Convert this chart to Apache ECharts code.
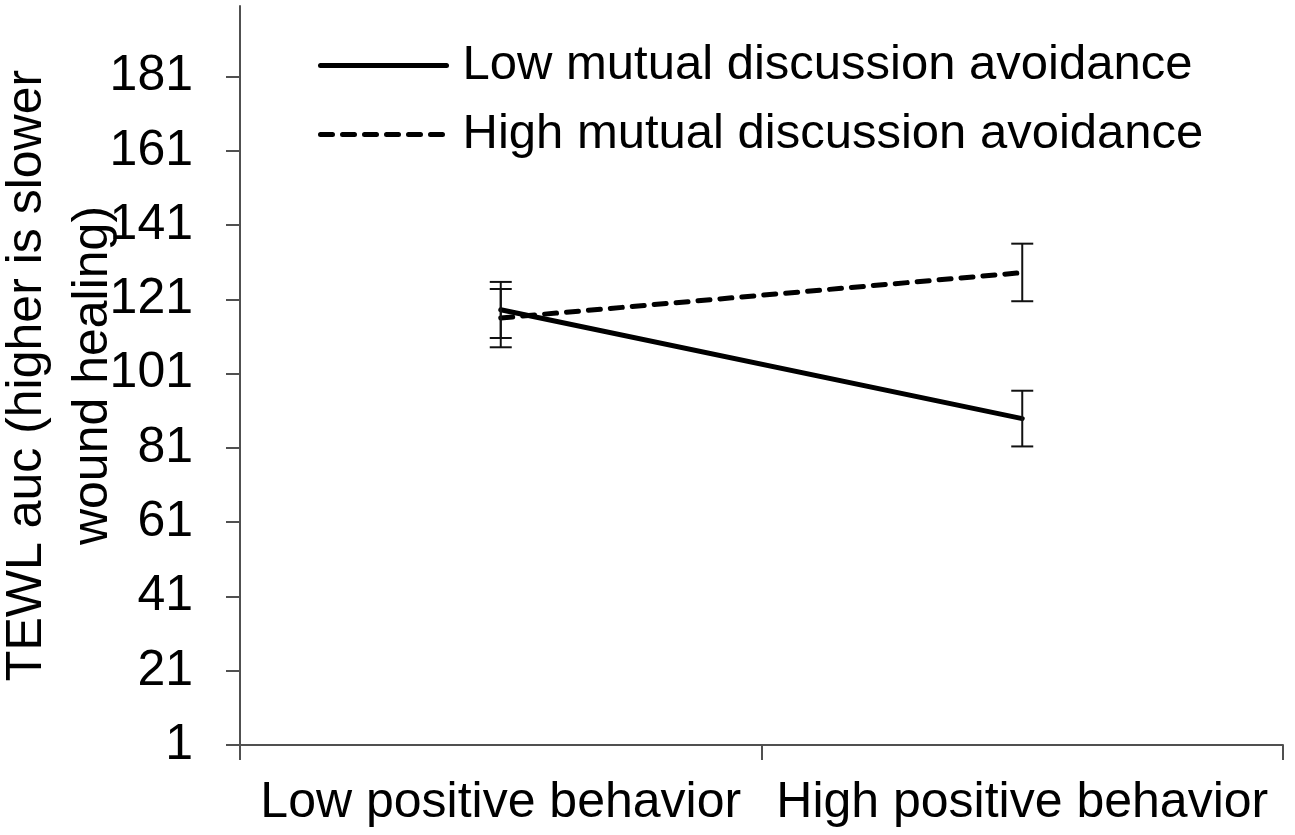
<!DOCTYPE html>
<html>
<head>
<meta charset="utf-8">
<script src="https://cdn.jsdelivr.net/npm/echarts@6/dist/echarts.min.js"></script>
<style>
  html, body { margin: 0; padding: 0; background: #fff; }
  #chart { width: 1295px; height: 835px; }
</style>
</head>
<body>
<div id="chart"></div>
<script>
// Wound-healing (TEWL auc) by positive behavior and mutual discussion avoidance
const categories = ['Low positive behavior', 'High positive behavior'];
const seriesNames = ['Low mutual discussion avoidance', 'High mutual discussion avoidance'];

const lowAvoidMeans = [118.2, 88.9];
const lowAvoidUpper = [125.7, 96.4];
const lowAvoidLower = [110.6, 81.4];

const highAvoidMeans = [116.0, 128.2];
const highAvoidUpper = [123.8, 136.0];
const highAvoidLower = [108.1, 120.5];

const yTicks = [1, 21, 41, 61, 81, 101, 121, 141, 161, 181];
const yMin = 1;
const yMax = 200;
const yTitleLines = ['TEWL auc (higher is slower', 'wound healing)'];

const FONT = '"Liberation Sans", Arial, sans-serif';

function errorData(lower, upper) {
  return categories.map((c, i) => [i, lower[i], upper[i]]);
}

// whisker with a horizontal cap at each end
function renderErrorBar(params, api) {
  const x = api.value(0);
  const lo = api.coord([x, api.value(1)]);
  const hi = api.coord([x, api.value(2)]);
  const half = 11;
  const style = { stroke: '#111', lineWidth: 2 };
  return {
    type: 'group',
    children: [
      { type: 'line', shape: { x1: hi[0], y1: hi[1], x2: lo[0], y2: lo[1] }, style },
      { type: 'line', shape: { x1: hi[0] - half, y1: hi[1], x2: hi[0] + half, y2: hi[1] }, style },
      { type: 'line', shape: { x1: lo[0] - half, y1: lo[1], x2: lo[0] + half, y2: lo[1] }, style }
    ]
  };
}

const chart = echarts.init(document.getElementById('chart'), null, { renderer: 'canvas' });

chart.setOption({
  animation: false,
  backgroundColor: '#fff',
  textStyle: { fontFamily: FONT, color: '#000' },
  grid: { left: 240, right: 12, top: 6, bottom: 90, containLabel: false, outerBoundsMode: 'none' },
  legend: {
    orient: 'vertical',
    left: 313,
    top: 36,
    itemWidth: 126,
    itemHeight: 20,
    itemGap: 20,
    data: seriesNames,
    itemStyle: { opacity: 0 },
    lineStyle: { width: 5 },
    textStyle: { fontFamily: FONT, fontSize: 49, color: '#000', lineHeight: 49, padding: [0, 0, 0, 11] }
  },
  xAxis: {
    type: 'category',
    data: categories,
    boundaryGap: true,
    axisLine: { show: true, lineStyle: { color: '#505050', width: 2 } },
    axisTick: { show: true, length: 15, lineStyle: { color: '#505050', width: 2 } },
    axisLabel: { interval: 0, hideOverlap: false, margin: 33, fontSize: 50, color: '#000', fontFamily: FONT },
    splitLine: { show: false }
  },
  yAxis: {
    type: 'value',
    min: yMin,
    max: yMax,
    interval: 20,
    name: yTitleLines.join('\n'),
    nameLocation: 'middle',
    nameGap: 114,
    nameRotate: 90,
    nameMoveOverlap: false,
    nameTextStyle: { fontSize: 50, color: '#000', fontFamily: FONT, lineHeight: 66 },
    axisLine: { show: true, lineStyle: { color: '#505050', width: 2 } },
    axisTick: { show: true, length: 14, customValues: yTicks, lineStyle: { color: '#505050', width: 2 } },
    axisLabel: { customValues: yTicks, margin: 47, fontSize: 50, color: '#000', fontFamily: FONT },
    splitLine: { show: false }
  },
  series: [
    {
      name: seriesNames[0],
      type: 'line',
      data: lowAvoidMeans,
      symbol: 'none',
      lineStyle: { color: '#000', width: 5, type: 'solid', cap: 'round' },
      itemStyle: { color: '#000' },
      z: 3
    },
    {
      name: seriesNames[1],
      type: 'line',
      data: highAvoidMeans,
      symbol: 'none',
      lineStyle: { color: '#000', width: 5, type: [12, 10], cap: 'round' },
      itemStyle: { color: '#000' },
      z: 3
    },
    {
      name: 'lowAvoidError',
      type: 'custom',
      data: errorData(lowAvoidLower, lowAvoidUpper),
      renderItem: renderErrorBar,
      encode: { x: 0, y: [1, 2] },
      z: 4
    },
    {
      name: 'highAvoidError',
      type: 'custom',
      data: errorData(highAvoidLower, highAvoidUpper),
      renderItem: renderErrorBar,
      encode: { x: 0, y: [1, 2] },
      z: 4
    }
  ]
});
</script>
</body>
</html>
